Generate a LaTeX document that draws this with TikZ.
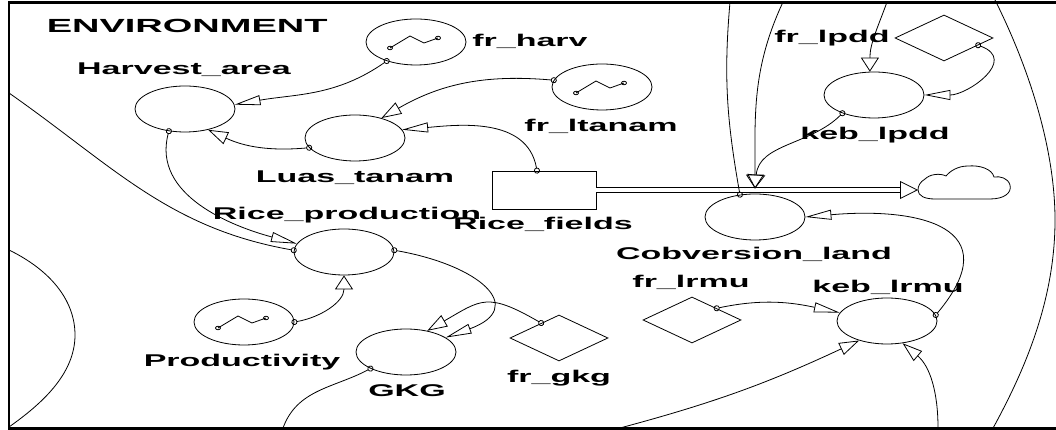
\documentclass[tikz,border=0pt]{standalone}
\usepackage{fontspec}
\setmainfont{Liberation Sans}
\usetikzlibrary{shapes.geometric, arrows.meta, calc}

\begin{document}
\begin{tikzpicture}[x=1pt, y=1pt, line width=0.8pt,
    aux/.style = {draw, ellipse, minimum width=100pt, minimum height=46pt, inner sep=0pt},
    cst/.style = {draw, diamond, minimum width=98pt, minimum height=46pt, inner sep=0pt},
    stk/.style = {draw, minimum width=104pt, minimum height=38pt, inner sep=0pt},
    lbl/.style = {font=\fontsize{17}{20}\selectfont\bfseries, xscale=2, anchor=base, inner sep=0pt},
    lnk/.style = {{Circle[open,length=6pt]}-{Triangle[open,length=26pt,width=10pt]}, shorten <=-3pt},
    lnkv/.style = {{Circle[open,length=6pt]}-{Triangle[open,length=14pt,width=18pt]}, shorten <=-3pt},
    lnkd/.style = {{Circle[open,length=6pt]}-{Triangle[open,length=20pt,width=13pt]}, shorten <=-3pt},
    lnko/.style = {{Circle[open,length=6pt]}-, shorten <=-3pt},
    lnki/.style = {-{Triangle[open,length=14pt,width=18pt]}},
    lnkid/.style = {-{Triangle[open,length=20pt,width=13pt]}},
    pipe/.style = {double=white, double distance=3.5pt},
    gicon/.pic = {
      \draw (-26,-6) -- (-6,6) -- (8,-1) -- (22,4);
      \draw (-26,-6) ellipse (2.5 and 1.8) (22,4) ellipse (2.5 and 1.8);
    }]
  \useasboundingbox (0,0) rectangle (1056,430);

  % frame and outside sectors
  \draw[line width=2.5pt] (1056,427.5) -- (9,427.5) -- (9,1.5) -- (1056,1.5);
  \draw (9,180) .. controls (50,160) and (75,130) .. (75,95) .. controls (75,55) and (40,25) .. (9,3);
  \draw (995,430) .. controls (1030,360) and (1055,280) .. (1055,210) .. controls (1055,130) and (1025,60) .. (992,0);

  \node[lbl, anchor=base west, font=\fontsize{19}{22}\selectfont\bfseries] (env) at (46,397) {ENVIRONMENT};

  \node[aux] (harv) at (185,321) {};
  \node[lbl] (harvL) at (184,355) {Harvest\_area};
  \node[aux] (fh) at (416,388) {};
  \node[lbl] (fhL) at (530,383) {fr\_harv};
  \node[aux] (fl) at (602,343) {};
  \node[lbl] (flL) at (601,298) {fr\_ltanam};
  \node[aux] (luas) at (355,292) {};
  \node[lbl] (luasL) at (355,247) {Luas\_tanam};
  \node[stk] (rf) at (544,240) {};
  \node[aux] (rp) at (344,178) {};
  \node[lbl] (rpL) at (347,210) {Rice\_production};
  \node[lbl] (rfL) at (543,200) {Rice\_fields};
  \node[aux] (prod) at (244,108) {};
  \node[lbl] (prodL) at (242,63) {Productivity};
  \node[aux] (gkg) at (406,78) {};
  \node[lbl] (gkgL) at (407,33) {GKG};
  \node[cst] (fg) at (559,92) {};
  \node[lbl] (fgL) at (559,47) {fr\_gkg};
  \node[aux] (cl) at (755,213) {};
  \node[lbl] (clL) at (754,170) {Cobversion\_land};
  \node[aux] (kl) at (887,109) {};
  \node[lbl] (klL) at (888,137) {keb\_lrmu};
  \node[cst] (fm) at (692,110) {};
  \node[lbl] (fmL) at (691,142) {fr\_lrmu};
  \node[cst] (fp) at (944,392) {};
  \node[lbl] (fpL) at (832,387) {fr\_lpdd};
  \node[aux] (kp) at (874,335) {};
  \node[lbl] (kpL) at (875,290) {keb\_lpdd};

  \pic at (fh) {gicon};
  \pic at (fl) {gicon};
  \pic at (prod) {gicon};

  \coordinate (sink) at (rf.east -| 918,0);
  \draw[shift={(sink)}] (0,0) .. controls (0,-6) and (7,-9) .. (17,-9) -- (72,-9)
    .. controls (86,-9) and (94,-3) .. (92,5) .. controls (90,12) and (82,14) .. (76,13)
    .. controls (74,21) and (62,25) .. (50,24) .. controls (40,24) and (32,19) .. (28,14)
    .. controls (22,17) and (12,16) .. (7,11) .. controls (2,8) and (0,4) .. (0,0);

  \coordinate (valve) at ([yshift=5pt]cl.north);
  \coordinate (lft) at (9,337);
  \coordinate (bgk) at (283,2);
  \coordinate (bl1) at (620,2);
  \coordinate (bl2) at (938,2);
  \coordinate (ta) at (730,428);
  \coordinate (tb) at (783,428);
  \coordinate (tp) at (887,428);

  \draw[pipe] (rf.east) -- ($(sink)+(-18,0)$);
  \draw[-{Triangle[open,length=18pt,width=18pt]}] ($(sink)+(-18,0)$) -- (sink);

  \draw[lnk] (fh.213) to[out=215,in=10] (harv.5);
  \draw[lnkd] (fl.172) to[out=175,in=30] (luas.37);
  \draw[lnk] (rf.110) to[out=100,in=5] (luas.10);
  \draw[lnkd] (luas.192) to[out=185,in=-25] (harv.318);
  \draw[lnk] (harv.234) to[out=255,in=165] (rp.170);
  \draw[lnko] (rp.178) to[out=170,in=-35] (lft);
  \draw[lnkv] (prod.east) to[out=10,in=-90] (rp.south);
  \draw[lnk] (rp.2) to[out=-10,in=20,looseness=2.2] (gkg.20);
  \draw[lnkd] (fg.140) to[out=150,in=30,looseness=1.4] (gkg.45);
  \draw[lnko] (gkg.205) to[out=208,in=70] (bgk);
  \draw[lnkv] (kp.210) to[out=225,in=85] (valve);
  \draw[lnki] (tb) to[out=245,in=90] (valve);
  \draw[lnko] (cl.124) to[out=100,in=-95] (ta);
  \draw[lnki] (tp) to[out=250,in=90] (kp.100);
  \draw[lnk] (fp.-12) to[out=-20,in=0,looseness=1.5] (kp.east);
  \draw[lnk] (kl.7) to[out=50,in=5,looseness=1.8] (cl.east);
  \draw[lnk] (fm.north east) to[out=12,in=168] (kl.170);
  \draw[lnkid] (bl1) to[out=15,in=205] (kl.215);
  \draw[lnkid] (bl2) to[out=90,in=-40] (kl.305);
\end{tikzpicture}
\end{document}
